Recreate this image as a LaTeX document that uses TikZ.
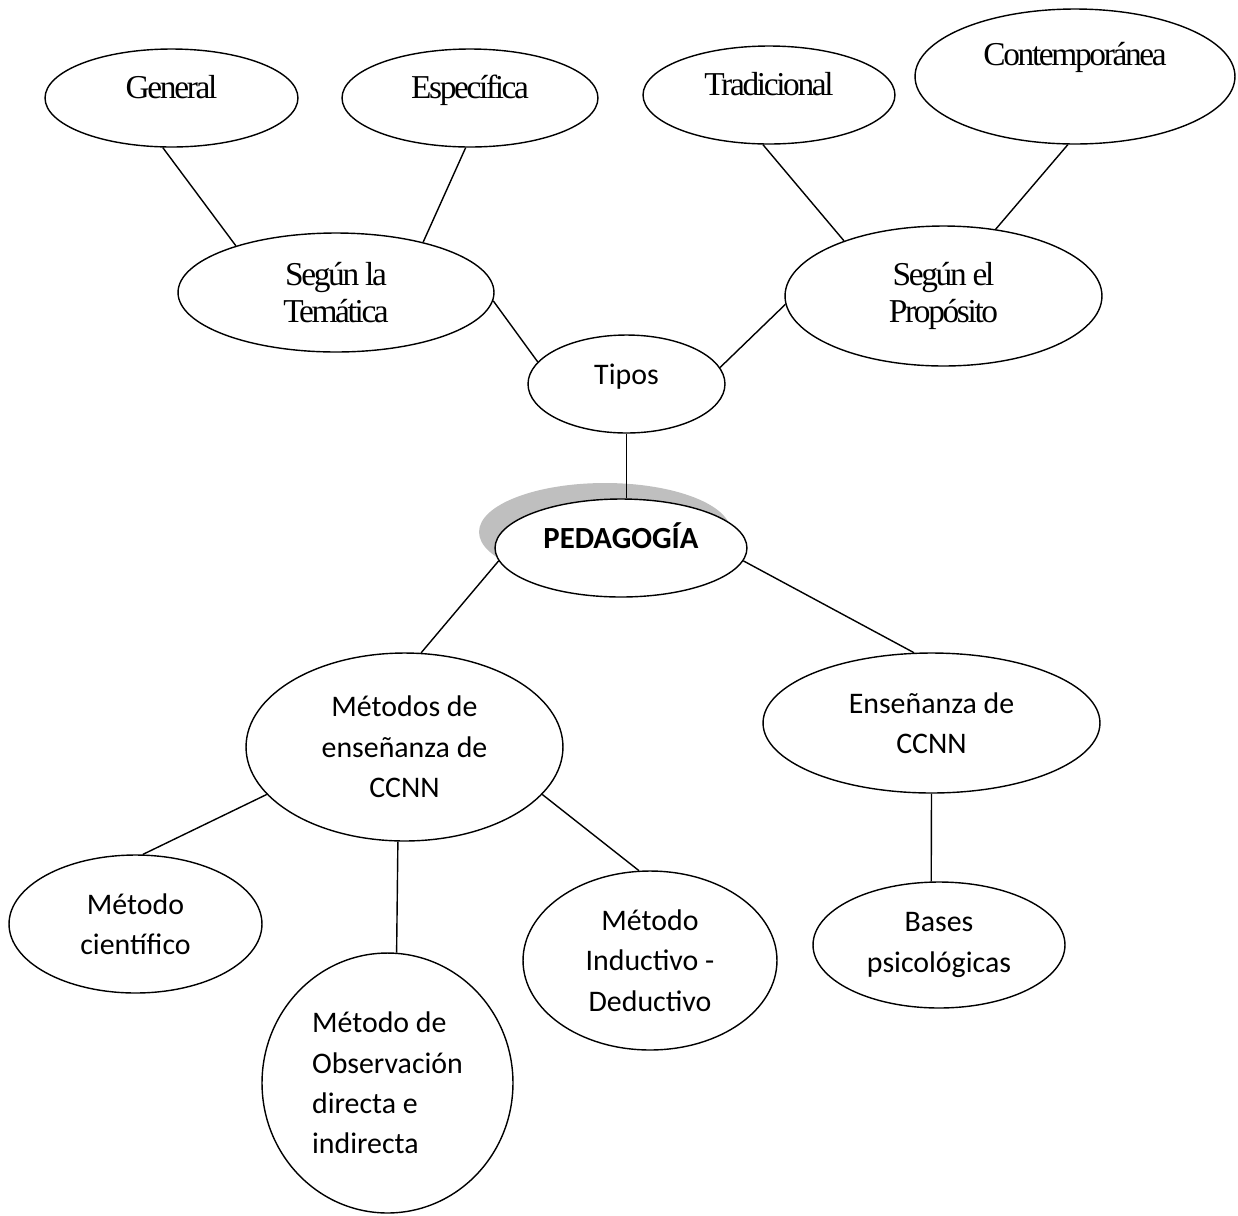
\documentclass[tikz,border=0pt]{standalone}
\usepackage{fontspec}
\setmainfont{Liberation Serif}
\newfontfamily\carlito{Carlito}
\newfontfamily\timesnarrow[LetterSpace=-7]{Liberation Serif}
\usetikzlibrary{shapes.geometric,shadows}

\begin{document}
\begin{tikzpicture}[x=0.02cm, y=-0.02cm, line width=0.8pt,
  bubble/.style={draw, ellipse, inner sep=0pt, align=center},
  serif/.style={bubble, font=\timesnarrow\fontsize{19}{21.5}\selectfont},
  sans/.style={bubble, font=\carlito\fontsize{17}{23}\selectfont},
  lift/.style={text height=5mm, text depth=#1}]
\useasboundingbox (0,0) rectangle (1238,1215);

% upper branch
\node[serif, lift=5mm, minimum width=5.06cm, minimum height=1.96cm] (GEN) at (171.5,98) {General};
\node[serif, lift=5mm, minimum width=5.12cm, minimum height=1.96cm] (ESP) at (470,98) {Específica};
\node[serif, lift=5mm, minimum width=5.04cm, minimum height=1.96cm] (TRA) at (769,95) {Tradicional};
\node[serif, lift=9.6mm, minimum width=6.4cm, minimum height=2.7cm] (CON) at (1075,76.5) {Contemporánea};
\node[serif, minimum width=6.32cm, minimum height=2.38cm] (TEM) at (336,292.5) {Según la\\Temática};
\node[serif, minimum width=6.34cm, minimum height=2.8cm] (PRO) at (943.5,296) {Según el\\Propósito};
\node[sans, lift=5mm, minimum width=3.94cm, minimum height=1.96cm] (TIP) at (626.5,384) {Tipos};

% centre
\node[sans, lift=5mm, fill=white, font=\carlito\bfseries\fontsize{17.5}{23}\selectfont,
  drop shadow={shadow xshift=-0.32cm, shadow yshift=0.32cm, fill=black!25, opacity=1},
  minimum width=5.04cm, minimum height=1.96cm] (PED) at (621,548) {PEDAGOGÍA};

% lower branch
\node[sans, minimum width=6.34cm, minimum height=3.76cm] (MET) at (404.5,747) {Métodos de\\enseñanza de\\CCNN};
\node[sans, minimum width=6.74cm, minimum height=2.8cm] (ENS) at (931.5,723) {Enseñanza de\\CCNN};
\node[sans, minimum width=5.06cm, minimum height=2.76cm] (CIE) at (135.5,924) {Método\\científico};
\node[sans, align=left, minimum width=5.02cm, minimum height=5.2cm] (OBS) at (387.5,1083) {Método de\\Observación\\directa e\\indirecta};
\node[sans, minimum width=5.08cm, minimum height=3.58cm] (IND) at (650,960.5) {Método\\Inductivo -\\Deductivo};
\node[sans, minimum width=5.04cm, minimum height=2.52cm] (BAS) at (939,945) {Bases\\psicológicas};

\draw (GEN.-100) -- (TEM.155);
\draw (ESP.-95) -- (TEM.30);
\draw (TEM.-3) -- (TIP.166);
\draw (TIP.10) -- (PRO.-177);
\draw (TRA.-97) -- (PRO.151);
\draw (CON.-96) -- (PRO.52);
\draw (TIP.south) -- (TIP.south |- PED.north);
\draw (PED.186) -- (MET.80);
\draw (PED.-6) -- (ENS.104);
\draw (MET.-161) -- (CIE.84);
\draw (MET.-94.5) -- (OBS.86);
\draw (MET.-19) -- (IND.97);
\draw (ENS.south) -- (BAS.97);
\end{tikzpicture}
\end{document}
